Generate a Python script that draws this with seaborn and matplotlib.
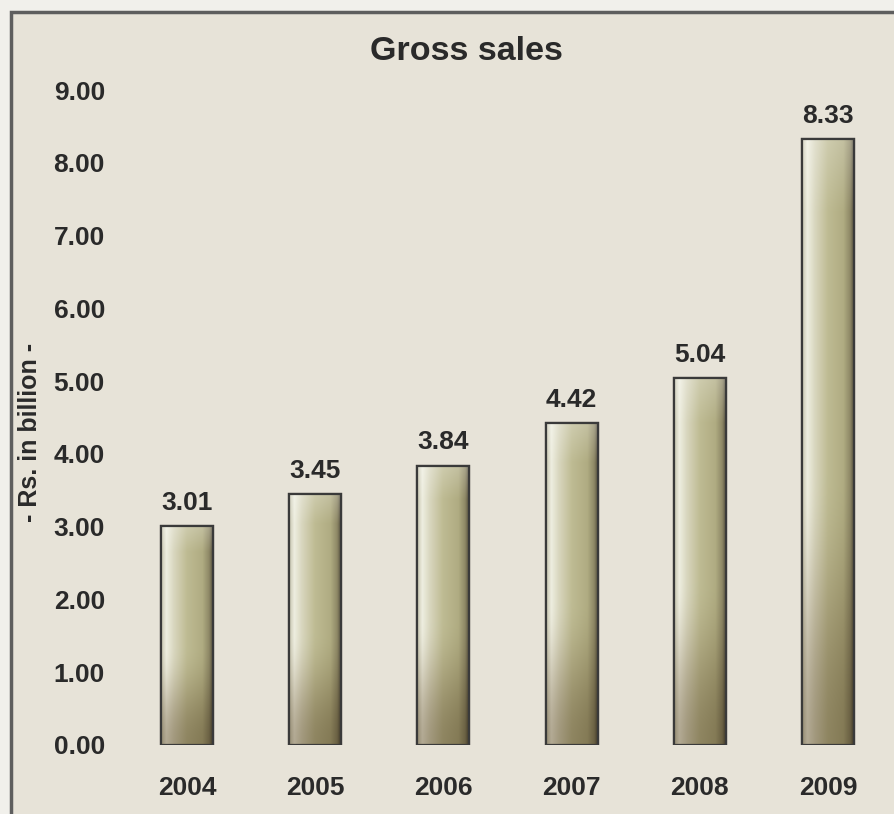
import numpy as np
import pandas as pd
import matplotlib
matplotlib.use('Agg')
import matplotlib.pyplot as plt
from matplotlib.colors import to_rgb
from matplotlib.patches import Rectangle
import seaborn as sns

# chart data
years = ['2004', '2005', '2006', '2007', '2008', '2009']
gross_sales = [3.01, 3.45, 3.84, 4.42, 5.04, 8.33]
y_ticks = [0, 1, 2, 3, 4, 5, 6, 7, 8, 9]

bg = '#e7e3d8'
txt = '#2a2a2a'

sns.set_theme(style='white')
plt.rcParams['font.family'] = ['Liberation Sans', 'DejaVu Sans']
plt.rcParams['font.weight'] = 'bold'

fig = plt.figure(figsize=(8.94, 8.14), dpi=100)
fig.patch.set_facecolor('#f1f0eb')
# panel with grey frame on left/top
fig.patches.append(Rectangle((11 / 894, -0.01), 1.0, 1 - 12 / 814 + 0.01,
                             transform=fig.transFigure, facecolor=bg,
                             edgecolor='#5e5e5e', linewidth=2.5, zorder=-10))

ax = fig.add_axes([123 / 894, 1 - 745 / 814, 769 / 894, 655 / 814])
ax.set_facecolor('none')

df = pd.DataFrame({'year': years, 'sales': gross_sales})
sns.barplot(data=df, x='year', y='sales', ax=ax, width=0.405,
            color='#b8b48c', edgecolor='#3a3a3a', linewidth=1.6, zorder=2)

# gradient fill for each bar: pale left, olive middle, dark right edge,
# brighter top and browner bottom
stops = [(0.0, '#c6c4ae'), (0.1, '#eeeee0'), (0.25, '#d8d6be'),
         (0.5, '#bebb93'), (0.8, '#b0ac82'), (0.93, '#8e8866'),
         (1.0, '#5a5442')]
nx, ny = 120, 300
xs = np.linspace(0, 1, nx)
pos = [s[0] for s in stops]
cols = np.array([to_rgb(s[1]) for s in stops])
row = np.stack([np.interp(xs, pos, cols[:, k]) for k in range(3)], axis=-1)
t = np.linspace(0, 1, ny)
s = np.clip((t - 0.55) / 0.45, 0, 1)
s = s * s * (3 - 2 * s)
img = np.repeat(row[None, :, :], ny, axis=0)
img = img * (1.0 - 0.25 * s)[:, None, None]
img[..., 1] *= (1.0 - 0.05 * s)[:, None]
img[..., 2] *= (1.0 - 0.12 * s)[:, None]
top = np.clip(1 - t / 0.12, 0, 1) * 0.25
img = img * (1 - top)[:, None, None] + top[:, None, None]
img = np.clip(img, 0, 1)

for bar in list(ax.patches):
    x0 = bar.get_x()
    w = bar.get_width()
    h = bar.get_height()
    im = ax.imshow(img, extent=[x0, x0 + w, 0, h], aspect='auto',
                   origin='upper', zorder=2.5)
    im.set_clip_path(bar)
    ax.add_patch(Rectangle((x0, 0), w, h, facecolor='none',
                           edgecolor='#3a3a3a', linewidth=1.6, zorder=3))
    ax.annotate(f'{h:.2f}', (x0 + w / 2, h), xytext=(0, 8),
                textcoords='offset points', ha='center', va='bottom',
                fontsize=19, fontweight='bold', color=txt)

ax.set_xlim(-0.5, 5.5)
ax.set_ylim(0, 9)
ax.set_yticks(y_ticks)
ax.set_yticklabels([f'{v:.2f}' for v in y_ticks])
ax.tick_params(axis='y', pad=13, labelsize=19, labelcolor=txt, length=0)
ax.tick_params(axis='x', pad=22, labelsize=19, labelcolor=txt, length=0)
for lab in ax.get_xticklabels() + ax.get_yticklabels():
    lab.set_fontweight('bold')
ax.set_xlabel('')
ax.set_ylabel('')
sns.despine(ax=ax, left=True, bottom=True)

fig.text(466 / 894, 1 - 52 / 814, 'Gross sales', ha='center', va='center',
         fontsize=24.5, fontweight='bold', color=txt)
fig.text(30 / 894, 1 - 432 / 814, '- Rs. in billion -', ha='center',
         va='center', rotation=90, fontsize=18, fontweight='bold', color=txt)

fig.savefig('out.png', dpi=100, facecolor=fig.get_facecolor())
